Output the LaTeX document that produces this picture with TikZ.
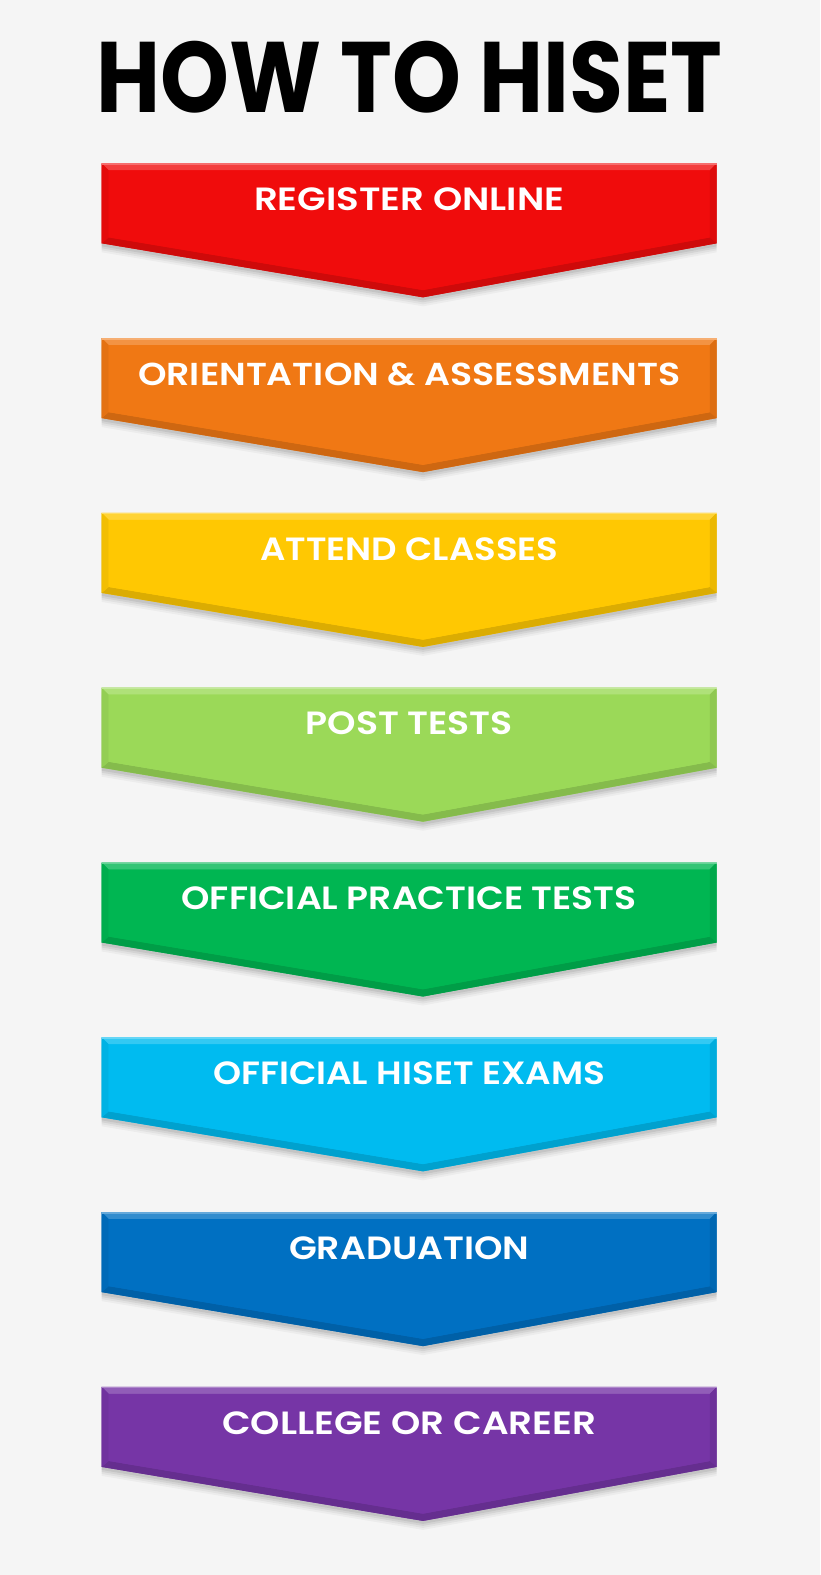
\documentclass[tikz,border=0pt]{standalone}
\usepackage{fontspec}
\usepackage{graphicx}
\newfontfamily\pop{Poppins SemiBold}
\newfontfamily\popb{Poppins}
\definecolor{bgc}{RGB}{245,245,245}
\definecolor{cA}{RGB}{240,12,12}
\definecolor{cB}{RGB}{240,120,20}
\definecolor{cC}{RGB}{255,200,2}
\definecolor{cD}{RGB}{155,217,88}
\definecolor{cE}{RGB}{0,182,82}
\definecolor{cF}{RGB}{0,187,240}
\definecolor{cG}{RGB}{0,112,194}
\definecolor{cH}{RGB}{118,53,166}
\tikzset{
  titletext/.style={inner sep=0pt,text=black,font=\popb\bfseries},
  labeltext/.style={inner sep=0pt,text=white,font=\pop},
}
\begin{document}
\begin{tikzpicture}[x=1pt,y=-1pt]
\fill[bgc] (0,0) rectangle (820,1575);
\useasboundingbox (0,0) rectangle (820,1575);
\node[titletext] (title) at (409.5,77) {\resizebox*{625pt}{72pt}{HOW TO HISET}};
\foreach \i/\c/\t/\w in {
  0/cA/REGISTER ONLINE/310,
  1/cB/ORIENTATION \& ASSESSMENTS/542,
  2/cC/ATTEND CLASSES/298,
  3/cD/POST TESTS/207,
  4/cE/OFFICIAL PRACTICE TESTS/455,
  5/cF/OFFICIAL HISET EXAMS/392,
  6/cG/GRADUATION/240,
  7/cH/COLLEGE OR CAREER/374}{
  \pgfmathsetmacro\y{163.3+174.8*\i}
  % soft shadow
  \foreach \s/\o in {9/0.035,7/0.045,5/0.06,3/0.07}{
    \fill[black,opacity=\o] (101.7,\y+\s) -- (716.7,\y+\s) -- (716.7,\y+80+\s) -- (423,\y+134+\s) -- (101.7,\y+80+\s) -- cycle;
  }
  % base
  \fill[\c] (101.7,\y) -- (716.7,\y) -- (716.7,\y+80) -- (423,\y+134) -- (101.7,\y+80) -- cycle;
  % bevels
  \fill[\c!80!white] (101.7,\y) -- (716.7,\y) -- (709.7,\y+7) -- (108.7,\y+7) -- cycle;
  \fill[\c!92!black] (716.7,\y) -- (716.7,\y+80) -- (709.7,\y+74.2) -- (709.7,\y+7) -- cycle;
  \fill[\c!86!black] (716.7,\y+80) -- (423,\y+134) -- (423,\y+126.8) -- (709.7,\y+74.2) -- cycle;
  \fill[\c!86!black] (423,\y+134) -- (101.7,\y+80) -- (108.7,\y+74.1) -- (423,\y+126.8) -- cycle;
  \fill[\c!95!black] (101.7,\y+80) -- (101.7,\y) -- (108.7,\y+7) -- (108.7,\y+74.1) -- cycle;
  \fill[\c] (108.7,\y+7) -- (709.7,\y+7) -- (709.7,\y+74.2) -- (423,\y+126.8) -- (108.7,\y+74.1) -- cycle;
  \fill[\c!60!white] (101.7,\y) -- (716.7,\y) -- (716.7,\y+1.5) -- (101.7,\y+1.5) -- cycle;
  \node[labeltext] (t\i) at (409.2,\y+36) {\resizebox*{\w pt}{23pt}{\t}};
}
\end{tikzpicture}
\end{document}
